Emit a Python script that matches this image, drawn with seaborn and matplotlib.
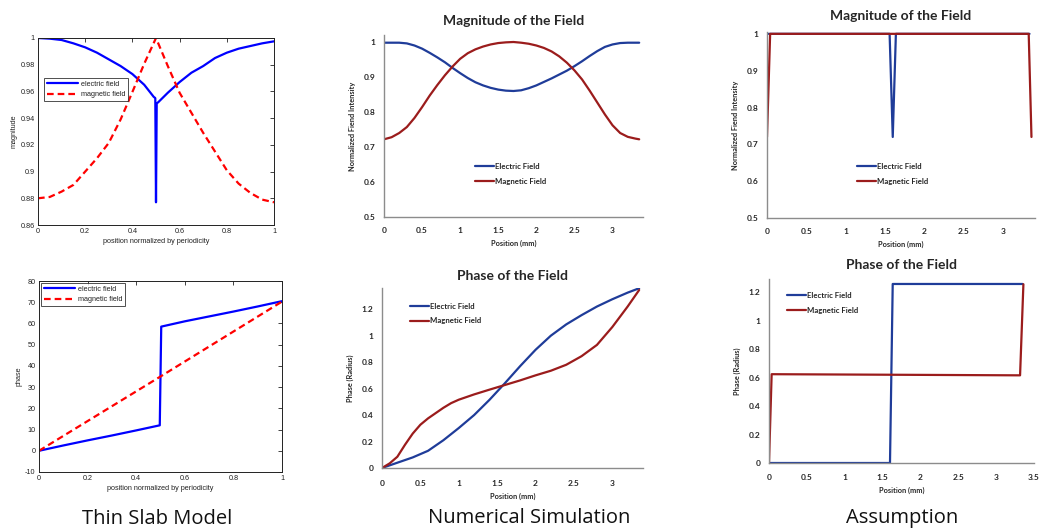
import numpy as np
import pandas as pd
import matplotlib
matplotlib.use("Agg")
import matplotlib.pyplot as plt
import seaborn as sns

# ---------------- data ----------------
# Thin slab model: magnitude vs normalized position
slab_mag_e_x = [0, 0.05, 0.1, 0.15, 0.2, 0.25, 0.3, 0.35, 0.4, 0.45, 0.49, 0.497, 0.5, 0.503,
                0.51, 0.55, 0.6, 0.65, 0.7, 0.75, 0.8, 0.85, 0.9, 0.95, 1.0]
slab_mag_e = [1.000, 0.9995, 0.9985, 0.996, 0.993, 0.989, 0.984, 0.979, 0.973, 0.965, 0.956, 0.955,
              0.877, 0.951, 0.952, 0.959, 0.967, 0.974, 0.979, 0.985, 0.989, 0.992, 0.994, 0.996, 0.9975]
slab_mag_h_x = [0, 0.05, 0.1, 0.15, 0.2, 0.25, 0.3, 0.35, 0.4, 0.45, 0.5,
                0.55, 0.6, 0.65, 0.7, 0.75, 0.8, 0.85, 0.9, 0.95, 1.0]
slab_mag_h = [0.880, 0.881, 0.885, 0.890, 0.900, 0.910, 0.9215, 0.939, 0.9596, 0.9807, 1.000,
              0.979, 0.959, 0.944, 0.929, 0.915, 0.901, 0.891, 0.884, 0.879, 0.877]

# Thin slab model: phase vs normalized position
slab_ph_e_x = [0, 0.1, 0.2, 0.3, 0.4, 0.497, 0.503, 0.6, 0.7, 0.8, 0.9, 1.0]
slab_ph_e = [0, 2.5, 4.9, 7.2, 9.6, 12.0, 58.5, 61.0, 63.3, 65.6, 68.0, 70.5]
slab_ph_h_x = [0, 0.5, 1.0]
slab_ph_h = [0, 35.0, 70.3]

# Numerical simulation: magnitude vs position (mm)
num_mag_x = [0.0, 0.1, 0.2, 0.3, 0.4, 0.5, 0.6, 0.7, 0.8, 0.9, 1.0, 1.1, 1.2, 1.3, 1.4, 1.5, 1.6,
             1.7, 1.8, 1.9, 2.0, 2.1, 2.2, 2.3, 2.4, 2.5, 2.6, 2.7, 2.8, 2.9, 3.0, 3.1, 3.2, 3.3,
             3.35]
num_mag_e = [0.998, 0.998, 0.998, 0.996, 0.990, 0.981, 0.969, 0.956, 0.942, 0.926, 0.911, 0.897,
             0.885, 0.876, 0.869, 0.864, 0.861, 0.860, 0.862, 0.868, 0.876, 0.886, 0.896, 0.907,
             0.918, 0.931, 0.945, 0.960, 0.974, 0.986, 0.993, 0.997, 0.998, 0.998, 0.998]
num_mag_h = [0.722, 0.728, 0.740, 0.757, 0.783, 0.814, 0.847, 0.877, 0.905, 0.930, 0.952, 0.968,
             0.979, 0.987, 0.993, 0.997, 0.999, 1.000, 0.998, 0.995, 0.990, 0.983, 0.973, 0.959,
             0.941, 0.919, 0.893, 0.861, 0.827, 0.793, 0.762, 0.740, 0.729, 0.724, 0.722]

# Numerical simulation: phase vs position (mm)
num_ph_e_x = [0, 0.2, 0.4, 0.6, 0.8, 1.0, 1.2, 1.4, 1.6, 1.8, 2.0, 2.2, 2.4, 2.6, 2.8, 3.0,
              3.2, 3.35]
num_ph_e = [0, 0.04, 0.08, 0.13, 0.21, 0.302, 0.40, 0.515, 0.64, 0.77, 0.893, 1.0, 1.085,
            1.155, 1.22, 1.275, 1.325, 1.358]
num_ph_h_x = [0, 0.1, 0.2, 0.3, 0.4, 0.5, 0.6, 0.7, 0.8, 0.9, 1.0, 1.2, 1.4, 1.6, 1.8, 2.0,
              2.2, 2.4, 2.6, 2.8, 3.0, 3.2, 3.35]
num_ph_h = [0, 0.035, 0.085, 0.176, 0.26, 0.327, 0.375, 0.415, 0.455, 0.49, 0.516, 0.556,
            0.592, 0.627, 0.662, 0.70, 0.735, 0.78, 0.845, 0.93, 1.065, 1.22, 1.345]

# Assumption: magnitude vs position (mm)
asm_mag_e_x = [0.02, 1.56, 1.60, 1.64, 3.34]
asm_mag_e = [1.0, 1.0, 0.72, 1.0, 1.0]
asm_mag_h_x = [0, 0.04, 3.33, 3.365]
asm_mag_h = [0.72, 1.0, 1.0, 0.72]

# Assumption: phase vs position (mm)
asm_ph_e_x = [0, 1.598, 1.634, 3.35]
asm_ph_e = [0, 0, 1.26, 1.26]
asm_ph_h_x = [0, 0.035, 3.316, 3.36]
asm_ph_h = [0, 0.625, 0.617, 1.258]

# Tick labels
slab_x_ticks = ["0", "0.2", "0.4", "0.6", "0.8", "1"]
slab_mag_y_ticks = ["0.86", "0.88", "0.9", "0.92", "0.94", "0.96", "0.98", "1"]
slab_ph_y_ticks = ["-10", "0", "10", "20", "30", "40", "50", "60", "70", "80"]
pos_ticks = ["0", "0.5", "1", "1.5", "2", "2.5", "3"]
pos_ticks_wide = ["0", "0.5", "1", "1.5", "2", "2.5", "3", "3.5"]
mag_y_ticks = ["0.5", "0.6", "0.7", "0.8", "0.9", "1"]
phase_y_ticks = ["0", "0.2", "0.4", "0.6", "0.8", "1", "1.2"]

series_labels_lower = ["electric field", "magnetic field"]
series_labels_upper = ["Electric Field", "Magnetic Field"]
captions = ["Thin Slab Model", "Numerical Simulation", "Assumption"]

# ---------------- style ----------------
sns.set_style("white")
plt.rcParams["font.family"] = ["Liberation Sans", "DejaVu Sans"]

ML_BLUE, ML_RED = "#0000ff", "#ff0000"
XL_BLUE, XL_RED = "#1f3c99", "#9b1c1c"
XL_AXIS = "#8c8c8c"
XL_FONT = ["Lato", "DejaVu Sans"]

W, H = 1043, 531
fig = plt.figure(figsize=(W / 100, H / 100), dpi=100)


def px_axes(l, t, r, b):
    return fig.add_axes([l / W, 1 - b / H, (r - l) / W, (b - t) / H])


def fig_xy(x, y):
    return (x / W, 1 - y / H)


def line(ax, x, y, color, label, ls="-", lw=1.6):
    df = pd.DataFrame({"x": x, "y": y})
    sns.lineplot(data=df, x="x", y="y", ax=ax, color=color, lw=lw, linestyle=ls,
                 sort=False, estimator=None, label=label, legend=False)


def matlab_axes(ax, xt, xl, yt, yl, xlabel, ylabel):
    ax.set_xticks(xt, xl)
    ax.set_yticks(yt, yl)
    for s in ax.spines.values():
        s.set_visible(True)
        s.set_color("#222222")
        s.set_linewidth(0.7)
    ax.tick_params(direction="in", length=3, width=0.6, top=True, right=True,
                   labelsize=5.2, colors="#222222", pad=2.5)
    ax.set_xlabel(xlabel, fontsize=5.2, color="#222222", labelpad=2)
    ax.set_ylabel(ylabel, fontsize=5.2, color="#222222", labelpad=2)


def excel_axes(ax, xt, xl, yt, yl, xlabel, ylabel, xpad=7):
    tick_font = {"family": XL_FONT, "weight": "bold", "size": 6}
    ax.set_xticks(xt, xl, fontdict=tick_font)
    ax.set_yticks(yt, yl, fontdict=tick_font)
    for side in ("top", "right"):
        ax.spines[side].set_visible(False)
    for side in ("left", "bottom"):
        ax.spines[side].set_color(XL_AXIS)
        ax.spines[side].set_linewidth(1.0)
    ax.tick_params(axis="both", length=0)
    ax.tick_params(axis="x", pad=xpad)
    ax.tick_params(axis="y", pad=6)
    ax.set_xlabel(xlabel, fontsize=5.3, fontweight="bold", family=XL_FONT, labelpad=4)
    ax.set_ylabel(ylabel, fontsize=5.3, fontweight="bold", family=XL_FONT, labelpad=6)


def excel_legend(ax, x, y):
    return ax.legend(loc="center left", bbox_to_anchor=fig_xy(x, y),
                     bbox_transform=fig.transFigure, frameon=False, borderpad=0,
                     borderaxespad=0, handlelength=2.5, handletextpad=0.1, labelspacing=1.0,
                     prop={"family": XL_FONT, "weight": "bold", "size": 5.6})


def matlab_legend(ax, x, y):
    leg = ax.legend(loc="upper left", bbox_to_anchor=fig_xy(x, y),
                    bbox_transform=fig.transFigure, frameon=True, fancybox=False,
                    borderaxespad=0, borderpad=0.35, handlelength=4.3, handletextpad=0.5,
                    labelspacing=0.5, prop={"size": 5.2})
    leg.get_frame().set_edgecolor("#222222")
    leg.get_frame().set_linewidth(0.7)
    for t in leg.get_texts():
        t.set_color("#222222")
    return leg


def excel_title(ax, text, pad):
    ax.set_title(text, fontsize=10, fontweight="bold", family=XL_FONT, pad=pad)


# ---------- Thin slab: magnitude ----------
ax1 = px_axes(38, 38, 274, 225)
line(ax1, slab_mag_e_x, slab_mag_e, ML_BLUE, series_labels_lower[0])
line(ax1, slab_mag_h_x, slab_mag_h, ML_RED, series_labels_lower[1], ls=(0, (3, 1.8)))
ax1.set_xlim(0, 1)
ax1.set_ylim(0.86, 1.0)
matlab_axes(ax1, np.linspace(0, 1, 6), slab_x_ticks, np.linspace(0.86, 1.0, 8), slab_mag_y_ticks,
            "position normalized by periodicity", "magnitude")
matlab_legend(ax1, 44, 78)

# ---------- Thin slab: phase ----------
ax2 = px_axes(39, 281, 282, 472)
line(ax2, slab_ph_e_x, slab_ph_e, ML_BLUE, series_labels_lower[0])
line(ax2, slab_ph_h_x, slab_ph_h, ML_RED, series_labels_lower[1], ls=(0, (3, 1.8)))
ax2.set_xlim(0, 1)
ax2.set_ylim(-10, 80)
matlab_axes(ax2, np.linspace(0, 1, 6), slab_x_ticks, np.arange(-10, 81, 10), slab_ph_y_ticks,
            "position normalized by periodicity", "phase")
matlab_legend(ax2, 41, 283)

# ---------- Numerical simulation: magnitude ----------
ax3 = px_axes(384, 35, 643, 217)
line(ax3, num_mag_x, num_mag_e, XL_BLUE, series_labels_upper[0])
line(ax3, num_mag_x, num_mag_h, XL_RED, series_labels_upper[1])
ax3.set_xlim(0, 3.4)
ax3.set_ylim(0.5, 1.02)
excel_axes(ax3, np.arange(0, 3.01, 0.5), pos_ticks, np.linspace(0.5, 1.0, 6), mag_y_ticks,
           "Position (mm)", "Normalized Fiend Intensity")
excel_title(ax3, "Magnitude of the Field", 7)
excel_legend(ax3, 475, 174)

# ---------- Numerical simulation: phase ----------
ax4 = px_axes(382, 288, 643, 468)
line(ax4, num_ph_e_x, num_ph_e, XL_BLUE, series_labels_upper[0])
line(ax4, num_ph_h_x, num_ph_h, XL_RED, series_labels_upper[1])
ax4.set_xlim(0, 3.4)
ax4.set_ylim(0, 1.36)
excel_axes(ax4, np.arange(0, 3.01, 0.5), pos_ticks, np.linspace(0, 1.2, 7), phase_y_ticks,
           "Position (mm)", "Phase (Radius)", xpad=9)
excel_title(ax4, "Phase of the Field", 6)
excel_legend(ax4, 410, 313.5)

# ---------- Assumption: magnitude ----------
ax5 = px_axes(767, 32, 1035, 218)
line(ax5, asm_mag_e_x, asm_mag_e, XL_BLUE, series_labels_upper[0])
line(ax5, asm_mag_h_x, asm_mag_h, XL_RED, series_labels_upper[1])
ax5.set_xlim(0, 3.41)
ax5.set_ylim(0.5, 1.005)
excel_axes(ax5, np.arange(0, 3.01, 0.5), pos_ticks, np.linspace(0.5, 1.0, 6), mag_y_ticks,
           "Position (mm)", "Normalized Fiend Intensity")
excel_title(ax5, "Magnitude of the Field", 9)
excel_legend(ax5, 857, 174)

# ---------- Assumption: phase ----------
ax6 = px_axes(769, 279, 1034, 463)
line(ax6, asm_ph_e_x, asm_ph_e, XL_BLUE, series_labels_upper[0])
line(ax6, asm_ph_h_x, asm_ph_h, XL_RED, series_labels_upper[1])
ax6.set_xlim(0, 3.5)
ax6.set_ylim(0, 1.295)
excel_axes(ax6, np.arange(0, 3.51, 0.5), pos_ticks_wide, np.linspace(0, 1.2, 7), phase_y_ticks,
           "Position (mm)", "Phase (Radius)", xpad=8)
excel_title(ax6, "Phase of the Field", 7)
excel_legend(ax6, 787, 303)

# ---------- column captions ----------
for text, (cx, cy) in zip(captions, [(157, 519), (529, 518), (902, 518)]):
    fig.text(*fig_xy(cx, cy), text, ha="center", va="center", fontsize=14.5,
             family=["Open Sans", "DejaVu Sans"], color="#111111")

fig.savefig("out.png", dpi=100)
